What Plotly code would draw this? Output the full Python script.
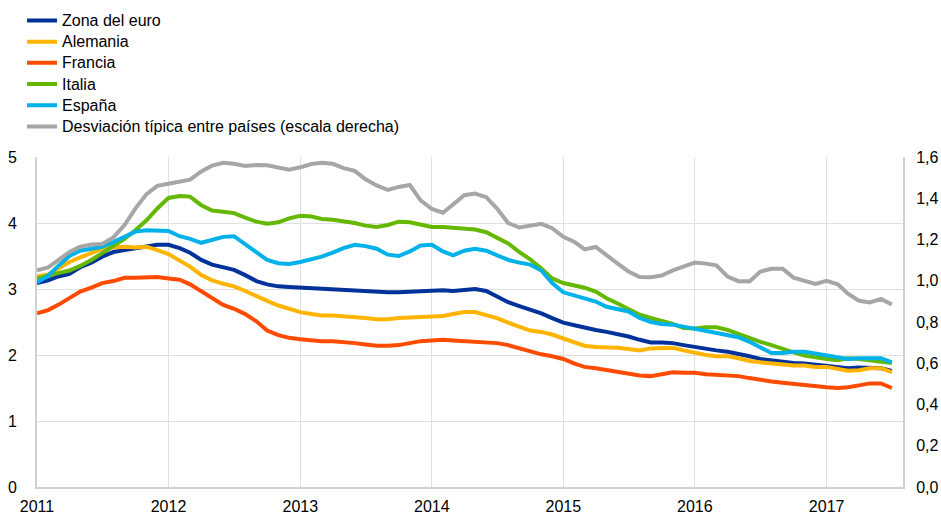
import pandas as pd
import plotly.graph_objects as go

# Monthly observations, Jan 2011 - Jul 2017
dates = pd.date_range("2011-01-01", periods=79, freq="MS")

zona_euro = [3.09, 3.13, 3.19, 3.23, 3.33, 3.40, 3.49, 3.56, 3.59, 3.62, 3.64, 3.67, 3.67,
             3.62, 3.55, 3.44, 3.37, 3.33, 3.29, 3.21, 3.12, 3.07, 3.04, 3.03, 3.02, 3.01,
             3.00, 2.99, 2.99, 2.98, 2.97, 2.96, 2.95, 2.95, 2.96, 2.97, 2.98, 2.98, 2.97,
             2.99, 3.00, 2.97, 2.88, 2.80, 2.74, 2.69, 2.63, 2.56, 2.49, 2.45, 2.41, 2.38,
             2.35, 2.32, 2.28, 2.23, 2.19, 2.19, 2.18, 2.15, 2.12, 2.09, 2.07, 2.05, 2.02,
             1.98, 1.94, 1.92, 1.89, 1.88, 1.87, 1.85, 1.84, 1.82, 1.80, 1.81, 1.81, 1.80, 1.76]

alemania = [3.19, 3.22, 3.31, 3.41, 3.48, 3.55, 3.61, 3.63, 3.64, 3.63, 3.64, 3.59, 3.53,
            3.43, 3.34, 3.21, 3.13, 3.08, 3.04, 2.97, 2.89, 2.82, 2.75, 2.70, 2.65, 2.62,
            2.60, 2.60, 2.59, 2.57, 2.56, 2.54, 2.54, 2.56, 2.57, 2.58, 2.58, 2.59, 2.62,
            2.65, 2.65, 2.61, 2.56, 2.49, 2.43, 2.37, 2.35, 2.31, 2.25, 2.19, 2.14, 2.12,
            2.12, 2.11, 2.09, 2.07, 2.10, 2.11, 2.11, 2.07, 2.03, 2.00, 1.98, 1.98, 1.95,
            1.91, 1.89, 1.87, 1.85, 1.84, 1.84, 1.82, 1.82, 1.79, 1.76, 1.77, 1.80, 1.80, 1.74]

francia = [2.63, 2.68, 2.76, 2.86, 2.96, 3.02, 3.09, 3.12, 3.17, 3.17, 3.17, 3.18, 3.16,
           3.14, 3.07, 2.96, 2.86, 2.76, 2.70, 2.62, 2.51, 2.37, 2.30, 2.26, 2.24, 2.22,
           2.21, 2.21, 2.20, 2.18, 2.16, 2.14, 2.14, 2.15, 2.18, 2.21, 2.22, 2.23, 2.22,
           2.21, 2.21, 2.20, 2.18, 2.15, 2.10, 2.05, 2.01, 1.98, 1.94, 1.87, 1.82, 1.80,
           1.77, 1.75, 1.72, 1.69, 1.68, 1.71, 1.74, 1.73, 1.73, 1.71, 1.70, 1.70, 1.68,
           1.65, 1.62, 1.60, 1.58, 1.56, 1.55, 1.53, 1.51, 1.50, 1.51, 1.54, 1.57, 1.57, 1.50]

italia = [3.16, 3.21, 3.24, 3.28, 3.35, 3.44, 3.54, 3.64, 3.76, 3.89, 4.04, 4.22, 4.38,
          4.41, 4.40, 4.27, 4.19, 4.17, 4.15, 4.08, 4.02, 3.99, 4.01, 4.07, 4.11, 4.10,
          4.06, 4.05, 4.03, 4.00, 3.96, 3.94, 3.97, 4.02, 4.01, 3.98, 3.94, 3.94, 3.93,
          3.91, 3.90, 3.86, 3.78, 3.69, 3.56, 3.45, 3.31, 3.16, 3.09, 3.05, 3.02, 2.96,
          2.86, 2.78, 2.70, 2.61, 2.56, 2.52, 2.47, 2.41, 2.40, 2.42, 2.42, 2.38, 2.32,
          2.25, 2.20, 2.15, 2.09, 2.04, 1.99, 1.96, 1.94, 1.92, 1.95, 1.94, 1.92, 1.91, 1.88]

espana = [3.10, 3.20, 3.35, 3.50, 3.58, 3.61, 3.64, 3.71, 3.79, 3.87, 3.89, 3.89, 3.88,
          3.80, 3.76, 3.70, 3.75, 3.79, 3.80, 3.68, 3.55, 3.44, 3.39, 3.38, 3.41, 3.45,
          3.49, 3.55, 3.62, 3.67, 3.65, 3.61, 3.52, 3.50, 3.57, 3.66, 3.67, 3.57, 3.51,
          3.58, 3.61, 3.58, 3.51, 3.44, 3.40, 3.37, 3.28, 3.09, 2.95, 2.90, 2.87, 2.81,
          2.73, 2.70, 2.66, 2.56, 2.50, 2.47, 2.46, 2.43, 2.40, 2.37, 2.33, 2.30, 2.27,
          2.20, 2.12, 2.03, 2.03, 2.05, 2.05, 2.02, 1.99, 1.97, 1.94, 1.95, 1.95, 1.95, 1.89]

desviacion = [1.05, 1.065, 1.10, 1.14, 1.165, 1.176, 1.178, 1.21, 1.27, 1.35, 1.42, 1.46, 1.47,
              1.48, 1.49, 1.53, 1.558, 1.572, 1.567, 1.556, 1.561, 1.56, 1.55, 1.538, 1.55, 1.566,
              1.572, 1.567, 1.546, 1.533, 1.492, 1.462, 1.44, 1.455, 1.464, 1.39, 1.348, 1.33, 1.37,
              1.415, 1.423, 1.405, 1.35, 1.28, 1.258, 1.265, 1.276, 1.255, 1.213, 1.188, 1.152, 1.164,
              1.122, 1.083, 1.045, 1.018, 1.017, 1.025, 1.05, 1.07, 1.088, 1.083, 1.075, 1.02, 0.998,
              0.997, 1.045, 1.058, 1.058, 1.015, 1.0, 0.985, 1.0, 0.983, 0.937, 0.903, 0.895, 0.912, 0.885]

names = ["Zona del euro", "Alemania", "Francia", "Italia", "España",
         "Desviación típica entre países (escala derecha)"]
colors = ["#003299", "#ffb400", "#ff4b00", "#65b800", "#00b1ea", "#a6a6a6"]
series = [zona_euro, alemania, francia, italia, espana, desviacion]

left_ticks = [0, 1, 2, 3, 4, 5]
right_ticks = [0.0, 0.2, 0.4, 0.6, 0.8, 1.0, 1.2, 1.4, 1.6]

fig = go.Figure()
for name, col, vals in zip(names, colors, series):
    fig.add_trace(go.Scatter(
        x=dates, y=vals, mode="lines",
        name='<span style="font-size:16px">' + name + "</span>",
        line=dict(color=col, width=4),
        yaxis="y2" if vals is desviacion else "y",
    ))

font = "Liberation Sans, Arial, sans-serif"
fig.update_layout(
    width=941, height=514,
    margin=dict(l=37, r=38, t=157, b=27, autoexpand=False),
    paper_bgcolor="white", plot_bgcolor="white",
    separators=",.",
    font=dict(family=font, size=16, color="#000000"),
    showlegend=True,
    legend=dict(x=-0.0173, y=1.461, xanchor="left", yanchor="top",
                font=dict(size=14, family=font, color="#000000"),
                itemwidth=30, tracegroupgap=0, bgcolor="rgba(0,0,0,0)"),
    xaxis=dict(type="date", range=["2011-01-01", "2017-08-01"],
               dtick="M12", tick0="2011-01-01", tickformat="%Y",
               showgrid=True, gridcolor="#e0e0e0", gridwidth=1,
               showline=True, linecolor="#d0d0d0", linewidth=2,
               ticks="", tickfont=dict(size=16), zeroline=False,
               ticklabelstandoff=4),
    yaxis=dict(range=[0, 5], tickvals=left_ticks,
               showgrid=True, gridcolor="#e0e0e0", gridwidth=1,
               showline=True, linecolor="#d0d0d0", linewidth=2,
               ticks="", tickfont=dict(size=16), zeroline=False,
               ticklabelstandoff=15),
    yaxis2=dict(range=[0, 1.6], tickvals=right_ticks, tickformat=".1f",
                overlaying="y", side="right", showgrid=False,
                showline=True, linecolor="#d0d0d0", linewidth=2,
                ticks="", tickfont=dict(size=16), zeroline=False,
                ticklabelstandoff=8),
)

fig.write_html(
    "out.html",
    config={"displayModeBar": False},
    post_script=("document.body.style.margin='0';"
                 "document.body.style.overflow='hidden';"
                 "document.documentElement.style.overflow='hidden';"),
)
